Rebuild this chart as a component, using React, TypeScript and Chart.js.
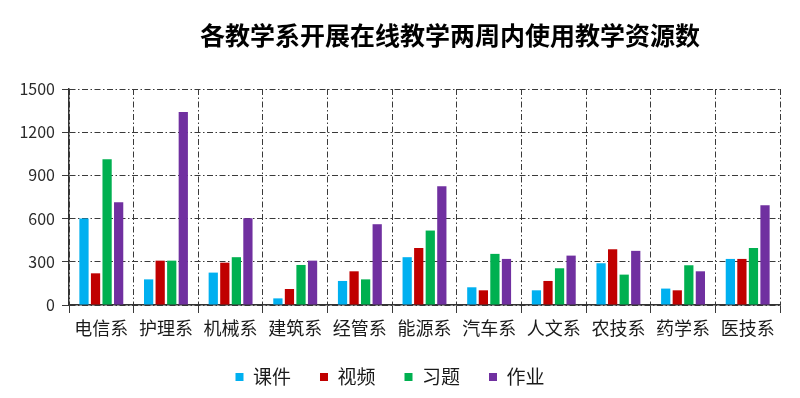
import React, { useEffect, useRef } from "react";
import { Chart, registerables } from "chart.js";

Chart.register(...registerables);

const chartTitle = "各教学系开展在线教学两周内使用教学资源数";
const categories = ["电信系", "护理系", "机械系", "建筑系", "经管系", "能源系", "汽车系", "人文系", "农技系", "药学系", "医技系"];
const seriesNames = ["课件", "视频", "习题", "作业"];
const kejian = [600, 178, 225, 46, 167, 332, 123, 102, 290, 114, 320];
const shipin = [220, 308, 294, 111, 234, 396, 102, 167, 387, 102, 320];
const xiti = [1013, 308, 332, 278, 178, 517, 355, 255, 211, 276, 396];
const zuoye = [714, 1340, 603, 308, 561, 825, 320, 343, 376, 234, 693];
const seriesColors = ["#00B0F0", "#C00000", "#00B050", "#7030A0"];
const yTicks = [0, 300, 600, 900, 1200, 1500];

const FONT = "'Noto Sans CJK SC', 'Noto Sans', sans-serif";

const titlePlugin = {
  id: "customTitle",
  afterDraw(chart: any, _args: any, opts: any) {
    const ctx = chart.ctx;
    ctx.save();
    ctx.font = opts.font;
    ctx.fillStyle = opts.color;
    ctx.textAlign = "center";
    ctx.textBaseline = "middle";
    ctx.fillText(opts.text, opts.x, opts.y);
    ctx.restore();
  },
};

export default function App() {
  const ref = useRef<HTMLCanvasElement | null>(null);
  useEffect(() => {
    document.body.style.margin = "0";
    const canvas = ref.current;
    if (!canvas) return;
    const values = [kejian, shipin, xiti, zuoye];
    const gridDash = [6, 2.5, 1.5, 2.5];
    const chart = new Chart(canvas, {
      type: "bar",
      data: {
        labels: categories,
        datasets: seriesNames.map((name, i) => ({
          label: name,
          data: values[i],
          backgroundColor: seriesColors[i],
          borderWidth: 0,
          categoryPercentage: 0.715,
          barPercentage: 0.8,
        })),
      },
      plugins: [titlePlugin],
      options: {
        animation: false,
        responsive: false,
        maintainAspectRatio: false,
        layout: { padding: { left: 0, right: 20, top: 89, bottom: 1.5 } },
        scales: {
          x: {
            offset: true,
            grid: {
              offset: true,
              color: "#3a3a3a",
              lineWidth: 1,
              drawTicks: true,
              tickLength: 8,
              tickColor: "#3a3a3a",
            },
            border: { display: true, color: "#333333", width: 1.5, dash: gridDash },
            ticks: {
              color: "#1a1a1a",
              font: { family: FONT, size: 18 },
              padding: 4,
              maxRotation: 0,
              autoSkip: false,
            },
            afterFit: (s: any) => {
              s.height = 33.5;
            },
          },
          y: {
            min: 0,
            max: 1500,
            afterBuildTicks: (s: any) => {
              s.ticks = yTicks.map((v) => ({ value: v }));
            },
            grid: {
              color: "#3a3a3a",
              lineWidth: 1,
              drawTicks: true,
              tickLength: 7,
              tickColor: "#3a3a3a",
            },
            border: { display: true, color: "#333333", width: 1.5, dash: gridDash },
            ticks: {
              color: "#2a2a2a",
              font: { family: FONT, size: 16 },
              padding: 7,
              callback: (v: any) => String(v),
            },
            afterFit: (s: any) => {
              s.width = 69;
            },
          },
        },
        plugins: {
          legend: {
            position: "bottom",
            labels: {
              boxWidth: 8,
              boxHeight: 8,
              padding: 29,
              color: "#1a1a1a",
              font: { family: FONT, size: 19 },
            },
          },
          tooltip: { enabled: false },
          customTitle: {
            text: chartTitle,
            x: 450,
            y: 35,
            font: `bold 25px ${FONT}`,
            color: "#000000",
          },
        } as any,
      },
    });
    return () => chart.destroy();
  }, []);
  return (
    <div style={{ width: 800, height: 398 }}>
      <canvas ref={ref} width={800} height={398} />
    </div>
  );
}
